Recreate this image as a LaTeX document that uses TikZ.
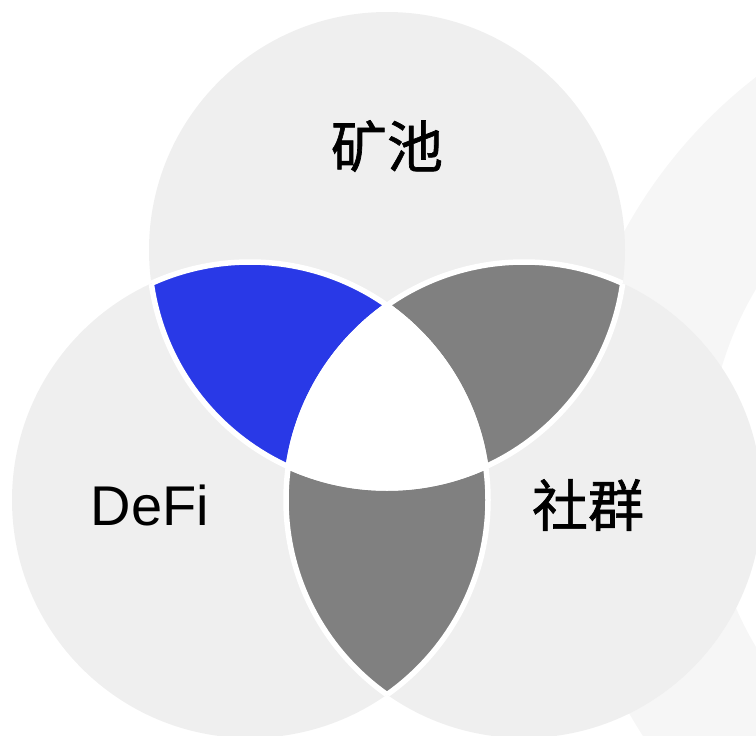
\documentclass[tikz,border=0pt]{standalone}
\usepackage{fontspec}
\setmainfont{Liberation Sans}
\newfontfamily\cjk[FakeBold=1.2]{Noto Sans CJK SC}
\definecolor{venn}{HTML}{EFEFEF}
\definecolor{ringc}{HTML}{F6F6F6}
\definecolor{lensblue}{HTML}{2939E7}
\definecolor{lensgray}{HTML}{808080}
\begin{document}
\begin{tikzpicture}[x=1pt,y=-1pt,
  lensline/.style={draw=white,line width=5.5pt},
  cjklabel/.style={font=\cjk\fontsize{56}{60}\selectfont,text=black,inner sep=0pt},
  latlabel/.style={font=\fontsize{56}{60}\selectfont,text=black,inner sep=0pt}]
\useasboundingbox (0,0) rectangle (756,736);
\clip (0,0) rectangle (756,736);
\coordinate (R0) at (1058,468);
\coordinate (T) at (387,250);
\coordinate (L) at (250,500);
\coordinate (Rc) at (524,500);
\def\rr{238}
% background ring
\fill[ringc,even odd rule] (R0) circle[radius=494] (R0) circle[radius=351];
% circles
\fill[venn] (T) circle[radius=\rr];
\fill[venn] (L) circle[radius=\rr];
\fill[venn] (Rc) circle[radius=\rr];
% lenses
\begin{scope}
  \clip (T) circle[radius=\rr];
  \fill[lensblue] (L) circle[radius=\rr];
  \fill[lensgray] (Rc) circle[radius=\rr];
\end{scope}
\begin{scope}
  \clip (L) circle[radius=\rr];
  \fill[lensgray] (Rc) circle[radius=\rr];
\end{scope}
% white borders
\begin{scope}
  \clip (T) circle[radius=\rr];
  \draw[lensline] (L) circle[radius=\rr] (Rc) circle[radius=\rr];
\end{scope}
\begin{scope}
  \clip (L) circle[radius=\rr];
  \draw[lensline] (T) circle[radius=\rr] (Rc) circle[radius=\rr];
\end{scope}
\begin{scope}
  \clip (Rc) circle[radius=\rr];
  \draw[lensline] (T) circle[radius=\rr] (L) circle[radius=\rr];
\end{scope}
% centre
\begin{scope}
  \clip (T) circle[radius=\rr];
  \clip (L) circle[radius=\rr];
  \fill[white] (Rc) circle[radius=\rr];
\end{scope}
% labels
\node[cjklabel] (kc) at (387,146) {矿池};
\node[latlabel] (defi) at (150,505) {DeFi};
\node[cjklabel] (sq) at (588,505) {社群};
\end{tikzpicture}
\end{document}
